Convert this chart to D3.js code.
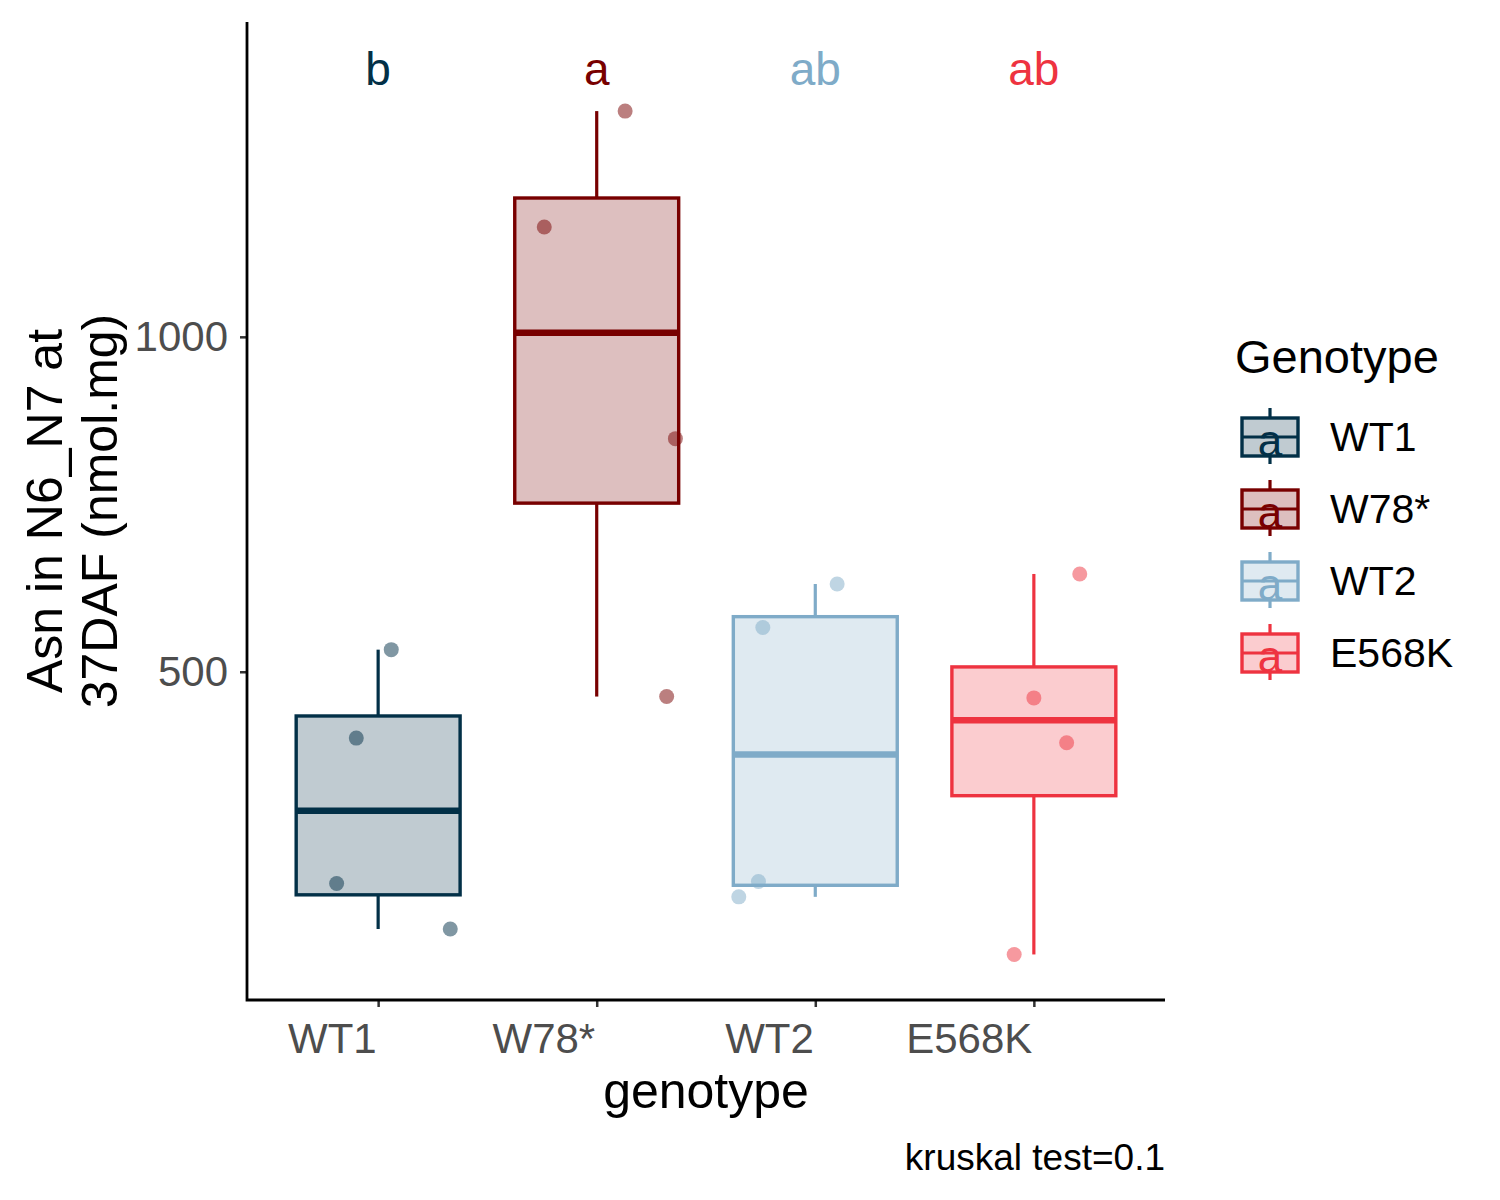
<!DOCTYPE html>
<html>
<head>
<meta charset="utf-8">
<script src="https://cdn.jsdelivr.net/npm/d3@7"></script>
<style>
  body { margin: 0; background: #fff; }
  text { font-family: "Liberation Sans", Arial, sans-serif; }
</style>
</head>
<body>
<svg id="chart" width="1500" height="1200"></svg>
<script>
// ---- data ----
const genotypes = ["WT1", "W78*", "WT2", "E568K"];
const colors = ["#023047", "#780000", "#7fabc8", "#ee3340"];
const valuesWT1 = [533, 401, 184, 116];
const valuesW78 = [1337, 1164, 848, 463];
const valuesWT2 = [631, 566, 187, 164];
const valuesE568K = [646, 461, 394, 78];
const jitterWT1 = [0.06, -0.10, -0.19, 0.33];
const jitterW78 = [0.13, -0.24, 0.36, 0.32];
const jitterWT2 = [0.10, -0.24, -0.26, -0.35];
const jitterE568K = [0.21, 0.00, 0.15, -0.09];
const letters = ["b", "a", "ab", "ab"];
const letterY = 1400;
const yTicks = [500, 1000];
const yDomain = [10, 1470];
const caption = "kruskal test=0.1";

const groups = genotypes.map((g, i) => ({
  name: g,
  color: colors[i],
  values: [valuesWT1, valuesW78, valuesWT2, valuesE568K][i],
  jitter: [jitterWT1, jitterW78, jitterWT2, jitterE568K][i],
  letter: letters[i]
}));

// ---- layout ----
const svg = d3.select("#chart");
const pLeft = 247, pRight = 1165, pTop = 22, pBottom = 1000;

const x = d3.scalePoint().domain(genotypes).range([pLeft, pRight]).padding(0.6);
const step = x.step();
const y = d3.scaleLinear().domain(yDomain).range([pBottom, pTop]);

const boxW = step * 0.75;

// stats
groups.forEach(g => {
  const s = g.values.slice().sort(d3.ascending);
  g.q1 = d3.quantile(s, 0.25);
  g.med = d3.quantile(s, 0.5);
  g.q3 = d3.quantile(s, 0.75);
  const iqr = g.q3 - g.q1;
  g.lo = d3.min(s.filter(v => v >= g.q1 - 1.5 * iqr));
  g.hi = d3.max(s.filter(v => v <= g.q3 + 1.5 * iqr));
});

const plot = svg.append("g");

// boxes
groups.forEach(g => {
  const cx = x(g.name);
  const gg = plot.append("g");
  gg.append("line").attr("x1", cx).attr("x2", cx)
    .attr("y1", y(g.hi)).attr("y2", y(g.q3))
    .attr("stroke", g.color).attr("stroke-width", 3.2);
  gg.append("line").attr("x1", cx).attr("x2", cx)
    .attr("y1", y(g.q1)).attr("y2", y(g.lo))
    .attr("stroke", g.color).attr("stroke-width", 3.2);
  gg.append("rect").attr("x", cx - boxW / 2).attr("width", boxW)
    .attr("y", y(g.q3)).attr("height", y(g.q1) - y(g.q3))
    .attr("fill", g.color).attr("fill-opacity", 0.25)
    .attr("stroke", g.color).attr("stroke-width", 3.4);
  gg.append("line").attr("x1", cx - boxW / 2).attr("x2", cx + boxW / 2)
    .attr("y1", y(g.med)).attr("y2", y(g.med))
    .attr("stroke", g.color).attr("stroke-width", 6.5);
});

// points
groups.forEach(g => {
  const cx = x(g.name);
  plot.selectAll(null).data(g.values.map((v, i) => ({ v, j: g.jitter[i] })))
    .enter().append("circle")
    .attr("cx", d => cx + d.j * step)
    .attr("cy", d => y(d.v))
    .attr("r", 7.5)
    .attr("fill", g.color).attr("fill-opacity", 0.5);
});

// letters
groups.forEach(g => {
  plot.append("text").attr("x", x(g.name)).attr("y", y(letterY))
    .attr("text-anchor", "middle").attr("dominant-baseline", "central")
    .attr("font-size", 46).attr("fill", g.color).text(g.letter);
});

// axes
const yAxis = svg.append("g").attr("transform", `translate(${pLeft},0)`)
  .call(d3.axisLeft(y).tickValues(yTicks).tickSize(7).tickPadding(12).tickFormat(d3.format("d")));
yAxis.select(".domain").remove();
yAxis.selectAll(".tick line").attr("stroke", "#333").attr("stroke-width", 2.5);
yAxis.selectAll(".tick text").attr("font-size", 42).attr("fill", "#4d4d4d")
  .attr("font-family", "Liberation Sans, Arial, sans-serif");

const xAxis = svg.append("g").attr("transform", `translate(0,${pBottom})`)
  .call(d3.axisBottom(x).tickSize(7).tickPadding(8));
xAxis.select(".domain").remove();
xAxis.selectAll(".tick line").attr("stroke", "#333").attr("stroke-width", 2.5);
xAxis.selectAll(".tick text").attr("font-size", 42).attr("fill", "#4d4d4d")
  .attr("text-anchor", "end").attr("dy", "0.9em").attr("dx", -2)
  .attr("font-family", "Liberation Sans, Arial, sans-serif");

// axis lines
svg.append("path")
  .attr("d", `M${pLeft},${pTop}V${pBottom}H${pRight}`)
  .attr("fill", "none").attr("stroke", "#000").attr("stroke-width", 2.8);

// axis titles
svg.append("text").attr("x", (pLeft + pRight) / 2).attr("y", 1108)
  .attr("text-anchor", "middle").attr("font-size", 50).attr("fill", "#000").text("genotype");

const yt = svg.append("text")
  .attr("transform", `translate(62,${(pTop + pBottom) / 2}) rotate(-90)`)
  .attr("text-anchor", "middle").attr("font-size", 50).attr("fill", "#000");
yt.append("tspan").attr("x", 0).attr("y", 0).text("Asn in N6_N7 at");
yt.append("tspan").attr("x", 0).attr("y", 55).text("37DAF (nmol.mg)");

// caption
svg.append("text").attr("x", pRight).attr("y", 1170)
  .attr("text-anchor", "end").attr("font-size", 37).attr("fill", "#000").text(caption);

// legend
const lg = svg.append("g");
lg.append("text").attr("x", 1235).attr("y", 373).attr("font-size", 47).attr("fill", "#000").text("Genotype");
groups.forEach((g, i) => {
  const cy = 437 + i * 72, cx = 1270;
  const k = lg.append("g");
  k.append("line").attr("x1", cx).attr("x2", cx).attr("y1", cy - 29).attr("y2", cy + 27)
    .attr("stroke", g.color).attr("stroke-width", 3.2);
  k.append("rect").attr("x", cx - 28).attr("width", 56).attr("y", cy - 19).attr("height", 38)
    .attr("fill", "#fff");
  k.append("rect").attr("x", cx - 28).attr("width", 56).attr("y", cy - 19).attr("height", 38)
    .attr("fill", g.color).attr("fill-opacity", 0.25)
    .attr("stroke", g.color).attr("stroke-width", 3.4);
  k.append("line").attr("x1", cx - 28).attr("x2", cx + 28).attr("y1", cy).attr("y2", cy)
    .attr("stroke", g.color).attr("stroke-width", 3.2);
  k.append("text").attr("x", cx).attr("y", cy + 3).attr("text-anchor", "middle")
    .attr("dominant-baseline", "central").attr("font-size", 44).attr("fill", g.color).text("a");
  lg.append("text").attr("x", 1330).attr("y", cy).attr("dominant-baseline", "central")
    .attr("font-size", 41).attr("fill", "#000").text(g.name);
});
</script>
</body>
</html>
